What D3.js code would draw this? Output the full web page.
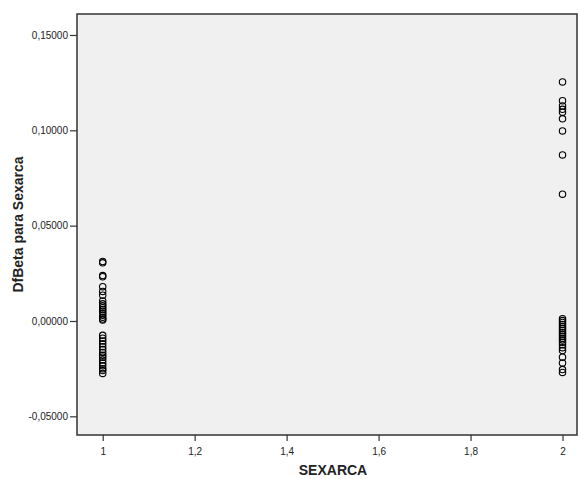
<!DOCTYPE html>
<html lang="es">
<head>
<meta charset="UTF-8">
<title>DfBeta para Sexarca</title>
<script src="https://d3js.org/d3.v7.min.js"></script>
<style>
  body { margin: 0; background: #fff; }
  text { font-family: "Liberation Sans", Arial, sans-serif; fill: #222; }
  .tick text { font-size: 10px; }
  .axis-title { font-size: 14px; font-weight: bold; }
</style>
</head>
<body>
<svg width="578" height="479"></svg>
<script>
// datos
var sexarcaGroup1 = [
  0.0312, 0.0305, 0.0238, 0.0232, 0.0180, 0.0155, 0.0135, 0.0105, 0.0090,
  0.0080, 0.0070, 0.0060, 0.0050, 0.0040, 0.0030, 0.0020, 0.0010, 0.0005,
  -0.0075, -0.0090, -0.0105, -0.0120, -0.0135, -0.0150, -0.0165, -0.0180,
  -0.0190, -0.0205, -0.0220, -0.0235, -0.0250, -0.0260, -0.0275
];
var sexarcaGroup2 = [
  0.1254, 0.1155, 0.1128, 0.1110, 0.1095, 0.1060, 0.0997, 0.0871, 0.0665,
  0.0012, 0.0002, -0.0008, -0.0018, -0.0030, -0.0040, -0.0050, -0.0060,
  -0.0070, -0.0080, -0.0090, -0.0100, -0.0112, -0.0125, -0.0140, -0.0155,
  -0.0190, -0.0220, -0.0255, -0.0270
];
var xTicks = [1, 1.2, 1.4, 1.6, 1.8, 2];
var yTicks = [-0.05, 0, 0.05, 0.10, 0.15];

var points = sexarcaGroup1.map(function(v) { return { x: 1, y: v }; })
  .concat(sexarcaGroup2.map(function(v) { return { x: 2, y: v }; }));

var svg = d3.select("svg");
var plotL = 77, plotR = 577, plotT = 14, plotB = 435;

var es = d3.formatLocale({ decimal: ",", thousands: ".", grouping: [3], currency: ["", " €"], minus: "-" });
var fmtY = es.format(".5f");
var fmtX = function(d) { return es.format("~g")(d); };

var x = d3.scaleLinear().domain([0.9441, 2.0315]).range([plotL, plotR]);
var y = d3.scaleLinear().domain([-0.0598, 0.1610]).range([plotB, plotT]);

svg.append("rect")
  .attr("x", plotL).attr("y", plotT)
  .attr("width", plotR - plotL).attr("height", plotB - plotT)
  .attr("fill", "#f0f0f0")
  .attr("stroke", "#333").attr("stroke-width", 1.5);

var xAxis = svg.append("g")
  .attr("transform", "translate(0," + plotB + ")")
  .call(d3.axisBottom(x).tickValues(xTicks).tickFormat(fmtX).tickSize(6).tickPadding(7));
var yAxis = svg.append("g")
  .attr("transform", "translate(" + plotL + ",0)")
  .call(d3.axisLeft(y).tickValues(yTicks).tickFormat(fmtY).tickSize(7).tickPadding(2));

[xAxis, yAxis].forEach(function(a) {
  a.select(".domain").remove();
  a.selectAll(".tick line").attr("stroke", "#333").attr("stroke-width", 1.2);
});

svg.append("g")
  .selectAll("circle")
  .data(points)
  .join("circle")
  .attr("cx", function(d) { return x(d.x); })
  .attr("cy", function(d) { return y(d.y); })
  .attr("r", 3.2)
  .attr("fill", "none")
  .attr("stroke", "#000")
  .attr("stroke-width", 1.1);

svg.append("text")
  .attr("class", "axis-title")
  .attr("x", 333)
  .attr("y", 475)
  .attr("text-anchor", "middle")
  .text("SEXARCA");

svg.append("text")
  .attr("class", "axis-title")
  .attr("transform", "translate(23," + ((plotT + plotB) / 2) + ") rotate(-90)")
  .attr("text-anchor", "middle")
  .text("DfBeta para Sexarca");
</script>
</body>
</html>
